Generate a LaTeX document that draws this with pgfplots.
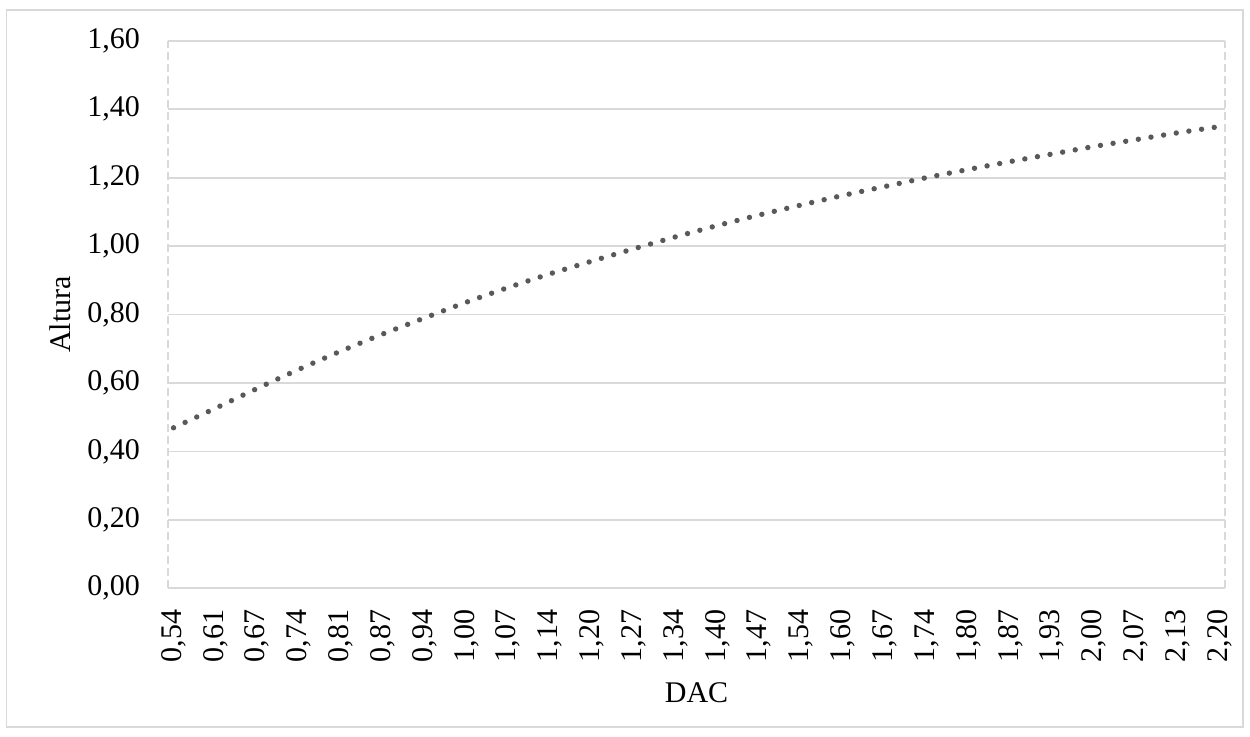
\documentclass[border=0pt]{standalone}
\usepackage{fontspec}
\setmainfont{Liberation Serif}
\usepackage{pgfplots}
\pgfplotsset{compat=1.18}
\definecolor{gridc}{RGB}{217,217,217}
\definecolor{linec}{RGB}{89,89,89}
\begin{document}
\fontsize{15}{18}\selectfont
\begin{tikzpicture}
\useasboundingbox (-84.15pt,-73.85pt) rectangle (540.85pt,294.15pt);
\draw[gridc, line width=0.8pt] (-80.8pt,-69.4pt) rectangle (537.4pt,289.2pt);
\begin{axis}[
  at={(0,0)}, anchor=south west,
  scale only axis, width=528.3pt, height=273.8pt,
  xmin=-0.125, xmax=25.125, ymin=0, ymax=1.6,
  axis line style={draw=none},
  major tick length=0pt,
  ytick={0,0.2,0.4,0.6,0.8,1.0,1.2,1.4,1.6},
  xtick={0,...,25},
  xticklabels={{0,54},{0,61},{0,67},{0,74},{0,81},{0,87},{0,94},{1,00},{1,07},{1,14},{1,20},{1,27},{1,34},{1,40},{1,47},{1,54},{1,60},{1,67},{1,74},{1,80},{1,87},{1,93},{2,00},{2,07},{2,13},{2,20}},
  ymajorgrids,
  grid style={gridc, line width=0.9pt},
  yticklabel style={/pgf/number format/.cd, fixed, fixed zerofill, precision=2, use comma, assume math mode=true, /tikz/.cd, inner sep=0pt, anchor=east, xshift=-14pt},
  xticklabel style={inner sep=0pt, yshift=-10.5pt, rotate=90, anchor=east},
  xlabel={DAC}, ylabel={Altura},
  xlabel style={at={([yshift=-57pt]axis description cs:0.5,0)}, anchor=base},
  ylabel style={at={([xshift=-49pt]axis description cs:0,0.5)}, anchor=base, rotate=0},
  clip=false,
]
\draw[gridc, line width=0.9pt] (rel axis cs:0,0) -- (rel axis cs:1,0);
\draw[gridc, line width=0.9pt, dash pattern=on 4pt off 2pt] (rel axis cs:0,0) -- (rel axis cs:0,1);
\draw[gridc, line width=0.9pt, dash pattern=on 4pt off 2pt] (rel axis cs:1,0) -- (rel axis cs:1,1);
\addplot[linec, line width=2.7pt, line cap=round, dash pattern=on 0pt off 6.4pt, smooth, no marks] coordinates {
(0,0.469) (1,0.526) (2,0.584) (3,0.640) (4,0.693) (5,0.743) (6,0.790) (7,0.836) (8,0.879) (9,0.919)
(10,0.956) (11,0.992) (12,1.027) (13,1.060) (14,1.091) (15,1.120) (16,1.148) (17,1.174) (18,1.200) (19,1.224)
(20,1.247) (21,1.269) (22,1.291) (23,1.311) (24,1.331) (25,1.349)
};
\end{axis}
\end{tikzpicture}
\end{document}
